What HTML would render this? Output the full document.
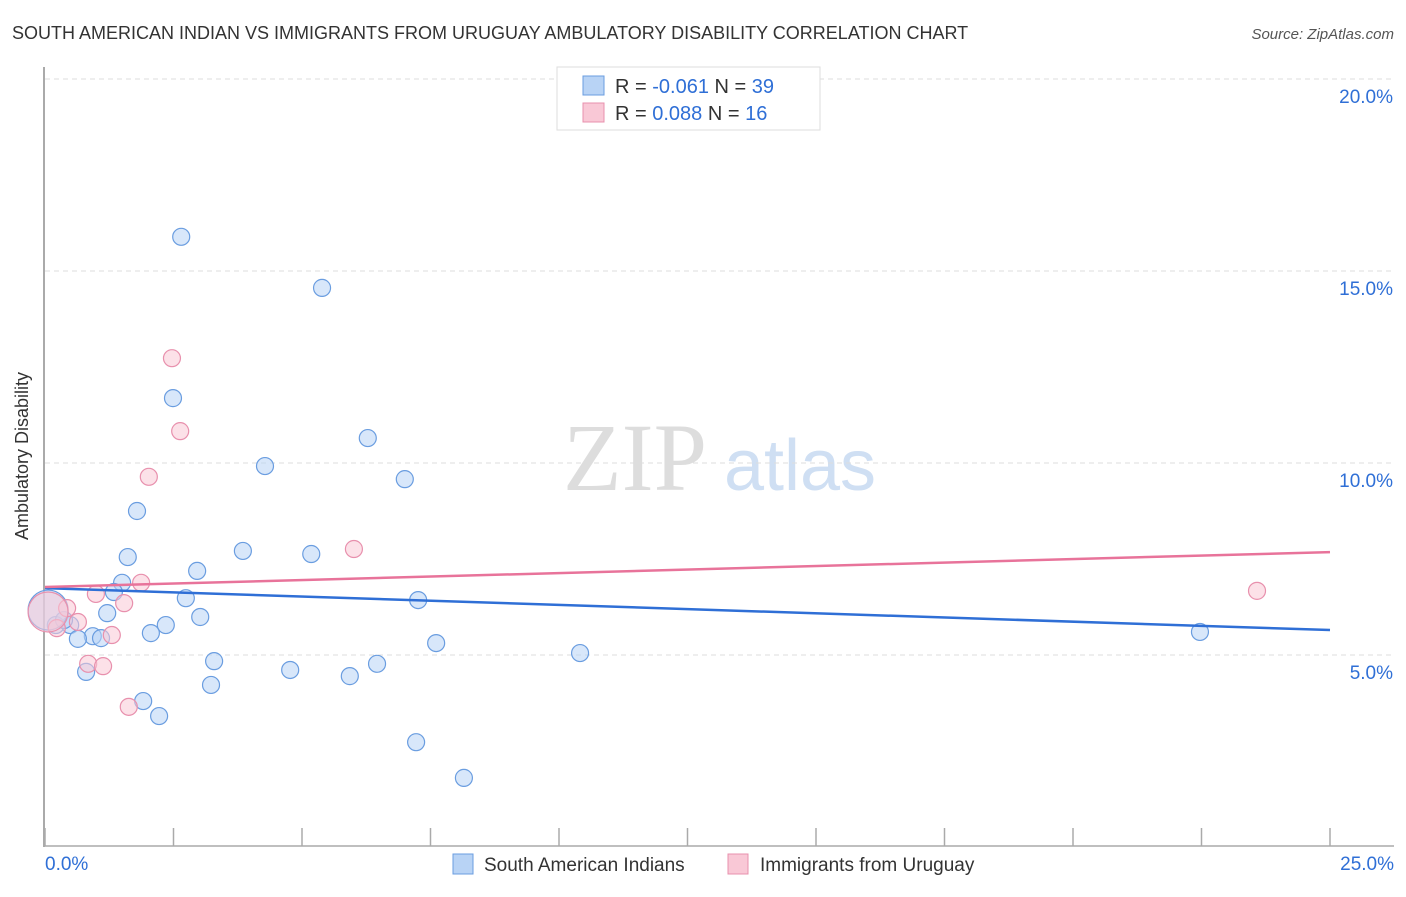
<!DOCTYPE html>
<html><head><meta charset="utf-8"><style>
body{margin:0;background:#fff;font-family:"Liberation Sans",sans-serif}
</style></head><body>
<svg width="1406" height="892" xmlns="http://www.w3.org/2000/svg" font-family="Liberation Sans, sans-serif">
<text x="12" y="39" font-size="18" fill="#333">SOUTH AMERICAN INDIAN VS IMMIGRANTS FROM URUGUAY AMBULATORY DISABILITY CORRELATION CHART</text>
<text x="1394" y="39" font-size="15" fill="#555" text-anchor="end" font-style="italic">Source: ZipAtlas.com</text>
<text x="28" y="456" font-size="18" fill="#333" text-anchor="middle" transform="rotate(-90 28 456)">Ambulatory Disability</text>
<g><text x="635" y="490" font-size="96" font-family="Liberation Serif, serif" fill="#ddd" text-anchor="middle">ZIP</text><text x="800" y="490" font-size="72" fill="#cfdff3" text-anchor="middle">atlas</text></g>
<g id="grid"></g><g id="axes"></g><g id="pts"></g><g id="lines"></g>
<g>
<rect x="557" y="67" width="263" height="63" fill="#fff" stroke="#ddd"/>
<rect x="583" y="76" width="21" height="19" fill="#b8d3f5" stroke="#6a9de0"/>
<rect x="583" y="103" width="21" height="19" fill="#f9c8d6" stroke="#e890ad"/>
<text x="615" y="93" font-size="20" fill="#333">R = <tspan fill="#2f6fd6">-0.061</tspan>   N = <tspan fill="#2f6fd6">39</tspan></text>
<text x="615" y="120" font-size="20" fill="#333">R =  <tspan fill="#2f6fd6">0.088</tspan>   N =  <tspan fill="#2f6fd6">16</tspan></text>
</g>
<g>
<rect x="453" y="854" width="20" height="20" fill="#b8d3f5" stroke="#6a9de0"/>
<text x="484" y="871" font-size="19" fill="#333">South American Indians</text>
<rect x="728" y="854" width="20" height="20" fill="#f9c8d6" stroke="#e890ad"/>
<text x="760" y="871" font-size="19" fill="#333">Immigrants from Uruguay</text>
</g>
</svg>
<script>
const blueX=[2.65,5.39,2.49,6.28,4.28,7.00,1.79,1.61,3.85,5.18,2.96,1.50,1.34,2.74,7.26,1.21,3.02,0.21,0.49,0.37,2.35,2.06,0.93,1.09,0.64,7.61,10.41,3.29,6.46,4.77,0.80,5.93,3.23,1.91,2.22,7.22,8.15,22.47,0.06];
const blueY=[15.89,14.56,11.69,10.65,9.92,9.58,8.75,7.55,7.71,7.63,7.19,6.88,6.64,6.48,6.43,6.09,5.99,5.78,5.78,5.91,5.78,5.57,5.49,5.44,5.42,5.31,5.05,4.84,4.77,4.61,4.56,4.45,4.22,3.80,3.41,2.73,1.80,5.60,6.17];
const pinkX=[2.47,2.63,2.02,6.01,1.87,0.99,1.54,0.43,0.64,0.23,1.30,0.84,1.13,1.63,23.58,0.06];
const pinkY=[12.73,10.83,9.64,7.76,6.88,6.59,6.35,6.22,5.86,5.70,5.52,4.77,4.71,3.65,6.67,6.12];
const blueTrend=[6.74,5.65];
const pinkTrend=[6.77,7.68];
const yTicks=[5,10,15,20];
const xTickLabels=["0.0%","25.0%"];
const NS="http://www.w3.org/2000/svg";
const sx=v=>45+v*51.4, sy=v=>847-v*38.4;
function mk(t,a,p){const e=document.createElementNS(NS,t);for(const k in a)e.setAttribute(k,a[k]);p.appendChild(e);return e;}
const grid=document.getElementById('grid'),axes=document.getElementById('axes'),pts=document.getElementById('pts'),lines=document.getElementById('lines');
yTicks.forEach(t=>{
const l=mk('line',{x1:45,x2:1394,y1:sy(t),y2:sy(t),stroke:'#ddd','stroke-dasharray':'5,4'},grid);


const tx=mk('text',{x:1393,y:sy(t)+24,'font-size':19,fill:'#2f6fd6','text-anchor':'end'},axes);tx.textContent=t.toFixed(1)+'%';


});
const ya=mk('line',{x1:44,x2:44,y1:67,y2:847,stroke:'#aaa','stroke-width':2},axes);


const xa=mk('line',{x1:44,x2:1394,y1:846,y2:846,stroke:'#aaa','stroke-width':1.5},axes);


for(let i=0;i<=10;i++){const x=sx(i*2.5);const tk=mk('line',{x1:x,x2:x,y1:828,y2:846,stroke:'#aaa','stroke-width':1.5},axes);

}
[[0,'start',45],[1,'end',1394]].forEach(([i,a,x])=>{const t=mk('text',{x:x,y:870,'font-size':19,fill:'#2f6fd6','text-anchor':a},axes);t.textContent=xTickLabels[i];

});
function dots(X,Y,fill,stroke,name){X.forEach((v,i)=>{const big=v<0.1;const c=mk('circle',{cx:sx(v),cy:sy(Y[i]),r:big?20:8.5,fill:fill,'fill-opacity':0.55,stroke:stroke,'stroke-width':1.2},pts);

});}
dots(blueX,blueY,'#b8d3f5','#6a9de0','blue-point');
dots(pinkX,pinkY,'#f9c8d6','#e890ad','pink-point');
const bl=mk('line',{x1:sx(0),x2:sx(25),y1:sy(blueTrend[0]),y2:sy(blueTrend[1]),stroke:'#2f6fd6','stroke-width':2.5},lines);


const pl=mk('line',{x1:sx(0),x2:sx(25),y1:sy(pinkTrend[0]),y2:sy(pinkTrend[1]),stroke:'#e8739a','stroke-width':2.5},lines);


</script>
</body></html>
